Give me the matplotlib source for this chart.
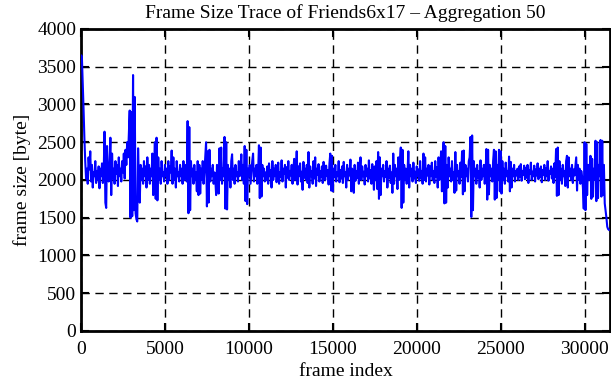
from matplotlib import pyplot as plt
import numpy as np

plt.rcParams.update({"font.size": 14, "font.family": "Liberation Serif"})

AGGREGATION = 50

# frame size per aggregated block of 50 frames
frame_size = [
    3650, 3640, 3300, 2950, 2560, 2250, 2020, 2150, 1950, 2300,
    2140, 2380, 1980, 2200, 1900, 2100, 2050, 2250, 1960, 2120,
    2000, 2180, 1890, 2150, 2050, 2220, 1960, 2100, 2640, 1700,
    1630, 2450, 2100, 1980, 2200, 2560, 1800, 2350, 2020, 2150,
    1950, 2250, 2080, 2200, 1920, 2300, 2050, 2150, 1980, 2250,
    2100, 2350, 2020, 2400, 2200, 2500, 2300, 2600, 2920, 1500,
    2900, 1520, 3390, 1600, 3100, 1560, 1480, 1450, 2420, 2000,
    1700, 2200, 2000, 2150, 1950, 2250, 2050, 2180, 1900, 2300,
    2000, 2200, 1950, 2150, 2050, 2350, 1800, 2100, 2500, 1750,
    2560, 1730, 2300, 2000, 2150, 1950, 2250, 2050, 2100, 1980,
    2200, 2050, 2150, 1950, 2250, 2000, 2180, 2100, 2390, 1950,
    2300, 2000, 2150, 1900, 2250, 2050, 2100, 1980, 2200, 2050,
    2150, 1950, 2250, 2000, 2100, 2200, 1980, 2780, 1560, 2700,
    1600, 2250, 2050, 2150, 1950, 2200, 2000, 2100, 1850, 2250,
    1800, 2200, 1820, 2150, 2000, 2250, 1950, 2100, 2300, 2500,
    1650, 2380, 1700, 2400, 1980, 2150, 2050, 2200, 1950, 2100,
    2000, 1800, 2200, 2050, 1820, 2420, 2000, 2430, 1950, 2150,
    2050, 2570, 1620, 2500, 1610, 2200, 2000, 2150, 1900, 2250,
    2340, 2000, 2150, 1950, 2200, 2050, 2100, 1980, 2250, 2050,
    2150, 2340, 2000, 2200, 1950, 2450, 1720, 2400, 1680, 2150,
    2050, 2200, 1950, 2100, 2250, 2350, 1980, 2150, 2050, 2200,
    1950, 2100, 2460, 1760, 2430, 1780, 2200, 2050, 2150, 1980,
    2100, 2000, 2180, 1950, 2220, 2050, 2130, 1900, 2250, 2000,
    2150, 2050, 2200, 1970, 2120, 2230, 1950, 2100, 2040, 2260,
    1980, 2150, 2080, 2200, 1900, 2170, 2030, 2250, 2000, 2120,
    2060, 2200, 1950, 2140, 2280, 2000, 2100, 2380, 1940, 2180,
    2050, 2220, 1980, 2110, 1870, 2240, 2030, 2150, 2000, 2200,
    1960, 2370, 1900, 2180, 2050, 2120, 1950, 2250, 2020, 2300,
    1920, 2150, 2070, 2210, 1980, 2120, 2040, 2180, 1960, 2240,
    2080, 2000, 2190, 2050, 2130, 1940, 2220, 2350, 1860, 2320,
    1850, 2150, 2040, 2200, 1980, 2100, 2050, 2250, 1970, 2130,
    2020, 2180, 1960, 2240, 2050, 2100, 1900, 2200, 2000, 2150,
    2060, 2270, 1850, 2150, 2050, 1830, 2200, 1990, 2120, 2030,
    2230, 1950, 2140, 2300, 2000, 2180, 2050, 2110, 1940, 2200,
    2050, 2150, 1980, 2260, 2020, 2130, 1950, 2210, 2070, 1870,
    2180, 2000, 2250, 1880, 2370, 1750, 2300, 1800, 2150, 2050,
    2200, 1980, 2120, 2040, 2250, 1900, 2150, 2030, 2190, 1960,
    2100, 1830, 2350, 1950, 2200, 2050, 2150, 1880, 2300, 2000,
    2250, 2430, 1630, 2400, 1700, 2200, 2000, 2150, 1950, 2100,
    2380, 1900, 2200, 2050, 2150, 1980, 2230, 2020, 2110, 1960,
    2180, 2050, 2140, 1990, 2250, 2030, 2120, 1950, 2350, 2000,
    2300, 1980, 2150, 2060, 2200, 1940, 2180, 2050, 2230, 2000,
    2120, 1960, 2250, 2040, 2170, 1900, 2300, 2000, 2150, 2380,
    1850, 2200, 2500, 1690, 2450, 1700, 2200, 1900, 2300, 2050,
    2150, 1980, 2250, 2000, 2100, 1830, 2370, 1860, 2200, 2050,
    2120, 1950, 2230, 2040, 2380, 1810, 2390, 1850, 2200, 2050,
    2150, 1980, 2250, 2300, 2570, 1510, 2590, 1600, 2250, 2050,
    2150, 1950, 2200, 2030, 2120, 1900, 2260, 2000, 2150, 2050,
    2200, 1950, 2100, 2410, 1740, 2400, 1810, 2200, 2050, 2150,
    1980, 2250, 2400, 1740, 2380, 1760, 2200, 2000, 2400, 1850,
    2380, 1820, 2250, 2000, 2150, 1950, 2230, 2050, 2120, 1980,
    2310, 1850, 2240, 1900, 2150, 2050, 2200, 1980, 2120, 2060,
    2150, 2000, 2180, 2040, 2210, 1990, 2120, 2070, 2190, 2010,
    2160, 2030, 2200, 1960, 2130, 2080, 2230, 2000, 2110, 2050,
    2190, 1980, 2140, 2060, 2220, 2010, 2150, 2040, 2180, 1970,
    2130, 2070, 2200, 2000, 2160, 2050, 2250, 1990, 2120, 2080,
    2180, 2020, 2150, 1960, 2220, 2040, 2410, 1790, 2430, 1800,
    2250, 2000, 2150, 1950, 2200, 2050, 2120, 1920, 2250, 2320,
    1900, 2300, 2050, 2150, 2000, 2200, 1960, 2140, 2060, 2180,
    2300, 1860, 2200, 2000, 2150, 1950, 2120, 2050, 1900, 1620,
    2500, 1600, 2480, 1800, 2200, 2000, 2150, 2320, 1750, 2280,
    1780, 2150, 2000, 2520, 1720, 2500, 1760, 2200, 2050, 2530,
    1780, 2520, 1800, 2200, 1690, 1600, 1500, 1380, 1350, 1340,
]
frame_index = np.arange(len(frame_size)) * AGGREGATION

x_ticks = [0, 5000, 10000, 15000, 20000, 25000, 30000]
y_ticks = [0, 500, 1000, 1500, 2000, 2500, 3000, 3500, 4000]

fig = plt.figure(figsize=(6.11, 3.80), dpi=100)
ax = fig.add_axes([0.1326, 0.129, 0.8654, 0.7947])

ax.plot(frame_index, frame_size, color="#0000ff", linewidth=1.5, zorder=3)

ax.set_xlim(0, 31500)
ax.set_ylim(0, 4000)
ax.set_xticks(x_ticks)
ax.set_yticks(y_ticks)
ax.grid(True, color="black", linestyle=(0, (6, 4)), linewidth=1)
ax.tick_params(direction="in", top=True, right=True, length=6, width=1.5)
ax.tick_params(axis="x", pad=7)
for spine in ax.spines.values():
    spine.set_linewidth(2)

ax.set_title("Frame Size Trace of Friends6x17 \u2013 Aggregation 50", fontsize=14, pad=8)
ax.set_xlabel("frame index", labelpad=4)
ax.set_ylabel("frame size [byte]", labelpad=4)

fig.savefig("out.png", dpi=100)
